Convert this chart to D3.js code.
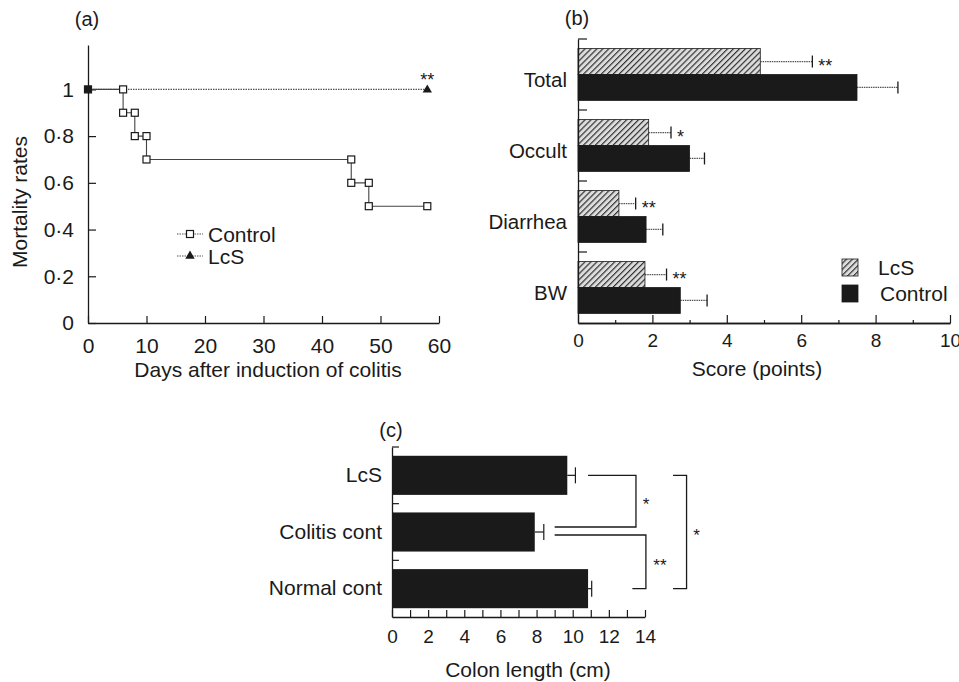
<!DOCTYPE html>
<html>
<head>
<meta charset="utf-8">
<script src="https://cdn.jsdelivr.net/npm/d3@7"></script>
<style>
  body { margin: 0; background: #fff; }
  svg text { font-family: "Liberation Sans", Arial, sans-serif; fill: #1a1a1a; }
</style>
</head>
<body>
<svg width="959" height="682"></svg>
<script>
// (a) survival
const controlDays = [0, 6, 8, 10, 45, 48, 58];
const controlRates = [1, 0.9, 0.8, 0.7, 0.6, 0.5, 0.5];
const lcsDays = [0, 58];
const lcsRates = [1, 1];
const survivalTicksY = [0, 0.2, 0.4, 0.6, 0.8, 1];
const survivalTicksX = [0, 10, 20, 30, 40, 50, 60];

// (b) scores
const scoreCats = ["Total", "Occult", "Diarrhea", "BW"];
const scoreGroups = ["LcS", "Control"];
const lcsScore = [4.9, 1.9, 1.1, 1.8];
const lcsScoreErr = [1.4, 0.6, 0.45, 0.58];
const ctrlScore = [7.5, 3.0, 1.83, 2.75];
const ctrlScoreErr = [1.1, 0.4, 0.45, 0.72];
const scoreStars = ["**", "*", "**", "**"];

// (c) colon length
const colonCats = ["LcS", "Colitis cont", "Normal cont"];
const colonLen = [9.7, 7.9, 10.85];
const colonErr = [0.45, 0.5, 0.2];
// significance brackets: [top row, bottom row, top start, vertical x, bottom end, label]
const colonBrackets = [
  [0, 1, 10.85, 13.5, 9.0, "*"],
  [1, 2, 9.0, 14.05, 13.3, "**"],
  [0, 2, 15.55, 16.3, 15.55, "*"]
];

const svg = d3.select("svg");
const ink = "#1a1a1a";
const fmtDot = d => d === 0 ? "0" : d === 1 ? "1" : d3.format(".1f")(d).replace(".", "\u00b7");

function styleAxis(g, size) {
  g.select(".domain").attr("stroke", ink).attr("stroke-width", 1.3);
  g.selectAll(".tick line").attr("stroke", ink).attr("stroke-width", 1.2);
  g.selectAll(".tick text").attr("font-size", size).attr("fill", ink)
    .style("font-family", '"Liberation Sans", Arial, sans-serif');
}

// ---------- panel (a)
const xA = d3.scaleLinear().domain([0, 60]).range([88, 439]);
const yA = d3.scaleLinear().domain([0, 1.19]).range([323, 45]);

const gA = svg.append("g");
gA.append("g").attr("transform", "translate(0,323)")
  .call(d3.axisBottom(xA).tickValues(survivalTicksX).tickSize(-7).tickSizeOuter(0).tickPadding(15))
  .call(g => styleAxis(g, 21));
gA.append("g").attr("transform", "translate(88,0)")
  .call(d3.axisLeft(yA).tickValues(survivalTicksY).tickFormat(fmtDot).tickSize(-8).tickSizeOuter(0).tickPadding(14))
  .call(g => styleAxis(g, 21));

const stepLine = d3.line().curve(d3.curveStepAfter).x(d => xA(d[0])).y(d => yA(d[1]));
const ctrlPts = controlDays.map((d, i) => [d, controlRates[i]]);
const lcsPts = lcsDays.map((d, i) => [d, lcsRates[i]]);

gA.append("path").datum(lcsPts).attr("d", stepLine)
  .attr("fill", "none").attr("stroke", "#555").attr("stroke-width", 1.1).attr("stroke-dasharray", "1.5,1");
gA.append("path").datum(ctrlPts).attr("d", stepLine)
  .attr("fill", "none").attr("stroke", "#444").attr("stroke-width", 1.1);

// corner markers for the control curve
const corners = [];
controlDays.forEach((d, i) => {
  if (i > 0 && controlRates[i - 1] !== controlRates[i]) corners.push([d, controlRates[i - 1]]);
  corners.push([d, controlRates[i]]);
});
gA.selectAll(".cm").data(corners).enter().append("rect")
  .attr("x", d => xA(d[0]) - 3.5).attr("y", d => yA(d[1]) - 3.5)
  .attr("width", 7).attr("height", 7)
  .attr("fill", d => d[0] === 0 ? ink : "#fff").attr("stroke", ink).attr("stroke-width", 1.2);

const tri = d3.symbol().type(d3.symbolTriangle).size(38);
gA.append("path").attr("d", tri())
  .attr("transform", `translate(${xA(lcsDays[1])},${yA(lcsRates[1]) + 0.5})`).attr("fill", ink);
gA.append("text").attr("x", xA(lcsDays[1])).attr("y", 86).attr("text-anchor", "middle")
  .attr("font-size", 18).text("**");

// legend (a)
[["Control", 234], ["LcS", 256]].forEach(([name, ly]) => {
  gA.append("line").attr("x1", 177).attr("x2", 203).attr("y1", ly).attr("y2", ly)
    .attr("stroke", "#555").attr("stroke-width", 1.1).attr("stroke-dasharray", "1.5,1");
  if (name === "Control") {
    gA.append("rect").attr("x", 186.5).attr("y", ly - 3.5).attr("width", 7).attr("height", 7)
      .attr("fill", "#fff").attr("stroke", ink).attr("stroke-width", 1.2);
  } else {
    gA.append("path").attr("d", tri()).attr("transform", `translate(190,${ly})`).attr("fill", ink);
  }
  gA.append("text").attr("x", 208).attr("y", ly).attr("dy", "0.36em").attr("font-size", 21).text(name);
});

gA.append("text").attr("transform", "translate(27,202) rotate(-90)").attr("text-anchor", "middle")
  .attr("font-size", 21).text("Mortality rates");
gA.append("text").attr("x", 268).attr("y", 377).attr("text-anchor", "middle")
  .attr("font-size", 21).text("Days after induction of colitis");
gA.append("text").attr("x", 87).attr("y", 26).attr("text-anchor", "middle")
  .attr("font-size", 20).text("(a)");

// ---------- panel (b)
const defs = svg.append("defs");
const pat = defs.append("pattern").attr("id", "hatch").attr("patternUnits", "userSpaceOnUse")
  .attr("width", 4.2).attr("height", 4.2).attr("patternTransform", "rotate(45)");
pat.append("rect").attr("width", 4.2).attr("height", 4.2).attr("fill", "#dcdcdc");
pat.append("line").attr("x1", 0).attr("y1", 0).attr("x2", 0).attr("y2", 4.2)
  .attr("stroke", "#333").attr("stroke-width", 2.4);

const xB = d3.scaleLinear().domain([0, 10]).range([578, 950]);
const yB = d3.scaleBand().domain(scoreCats).range([39, 323]).padding(0);
const yBin = d3.scaleBand().domain(scoreGroups).range([0, yB.bandwidth()]).paddingInner(0).paddingOuter(0.37);

const gB = svg.append("g");
const scoreRows = scoreCats.map((c, i) => ({
  cat: c, star: scoreStars[i],
  bars: [
    { grp: "LcS", v: lcsScore[i], e: lcsScoreErr[i] },
    { grp: "Control", v: ctrlScore[i], e: ctrlScoreErr[i] }
  ]
}));

const rowB = gB.selectAll(".row").data(scoreRows).enter().append("g")
  .attr("transform", d => `translate(0,${yB(d.cat)})`);
rowB.selectAll(".eb").data(d => d.bars).enter().append("g").each(function (d) {
  const g = d3.select(this);
  const cy = yBin(d.grp) + yBin.bandwidth() / 2;
  g.append("line").attr("x1", xB(d.v)).attr("x2", xB(d.v + d.e)).attr("y1", cy).attr("y2", cy)
    .attr("stroke", "#555").attr("stroke-width", 1.3).attr("stroke-dasharray", "1.5,0.8");
  g.append("line").attr("x1", xB(d.v + d.e)).attr("x2", xB(d.v + d.e)).attr("y1", cy - 6).attr("y2", cy + 6)
    .attr("stroke", ink).attr("stroke-width", 1.3);
});
rowB.selectAll(".bar").data(d => d.bars).enter().append("rect")
  .attr("x", xB(0)).attr("y", d => yBin(d.grp))
  .attr("width", d => xB(d.v) - xB(0)).attr("height", yBin.bandwidth())
  .attr("fill", d => d.grp === "LcS" ? "url(#hatch)" : ink)
  .attr("stroke", ink).attr("stroke-width", 0.8);
rowB.append("text")
  .attr("x", d => xB(d.bars[0].v + d.bars[0].e) + 6)
  .attr("y", yBin("LcS") + yBin.bandwidth() / 2 + 10)
  .attr("font-size", 18).text(d => d.star);

gB.append("g").attr("transform", "translate(0,323)")
  .call(d3.axisBottom(xB).tickValues([1, 3, 5, 7, 9]).tickFormat("").tickSize(-3).tickSizeOuter(0))
  .call(g => styleAxis(g, 19));
gB.append("g").attr("transform", "translate(0,323)")
  .call(d3.axisBottom(xB).tickValues([0, 2, 4, 6, 8, 10]).tickSize(-8).tickSizeOuter(0).tickPadding(11))
  .call(g => styleAxis(g, 19));
const yAxB = gB.append("g").attr("transform", `translate(${xB(0)},0)`)
  .call(d3.axisLeft(yB).tickSize(0).tickSizeOuter(0).tickPadding(11))
  .call(g => styleAxis(g, 20.5));
yAxB.selectAll(".tick text").attr("dy", "0.62em");
gB.selectAll(".sep").data(scoreCats).enter().append("line")
  .attr("x1", xB(0)).attr("x2", xB(0) + 9).attr("y1", d => yB(d)).attr("y2", d => yB(d))
  .attr("stroke", ink).attr("stroke-width", 1.2);

// legend (b)
[["LcS", 259, "url(#hatch)"], ["Control", 285, ink]].forEach(([name, ly, fill]) => {
  gB.append("rect").attr("x", 842).attr("y", ly).attr("width", 16).attr("height", 17)
    .attr("fill", fill).attr("stroke", ink).attr("stroke-width", 0.8);
  gB.append("text").attr("x", name === "LcS" ? 878 : 880).attr("y", ly + 8.5).attr("dy", "0.36em")
    .attr("font-size", 21).text(name);
});

gB.append("text").attr("x", 757).attr("y", 376).attr("text-anchor", "middle")
  .attr("font-size", 21).text("Score (points)");
gB.append("text").attr("x", 577).attr("y", 25).attr("text-anchor", "middle")
  .attr("font-size", 20).text("(b)");

// ---------- panel (c)
const xC = d3.scaleLinear().domain([0, 14]).range([392, 645]);
const yC = d3.scaleBand().domain(colonCats).range([447, 617]).padding(0);
const barPad = 0.155;
const gC = svg.append("g");

colonCats.forEach((c, i) => {
  const top = yC(c) + yC.bandwidth() * barPad;
  const h = yC.bandwidth() * (1 - 2 * barPad);
  const cy = top + h / 2;
  gC.append("line").attr("x1", xC(colonLen[i])).attr("x2", xC(colonLen[i] + colonErr[i]))
    .attr("y1", cy).attr("y2", cy).attr("stroke", ink).attr("stroke-width", 1.2);
  gC.append("line").attr("x1", xC(colonLen[i] + colonErr[i])).attr("x2", xC(colonLen[i] + colonErr[i]))
    .attr("y1", cy - 8).attr("y2", cy + 8).attr("stroke", ink).attr("stroke-width", 1.2);
  gC.append("rect").attr("x", xC(0)).attr("y", top)
    .attr("width", xC(colonLen[i]) - xC(0)).attr("height", h).attr("fill", ink);
});

const rowMid = i => yC(colonCats[i]) + yC.bandwidth() / 2;
colonBrackets.forEach(([a, b, x0, xv, x1, lab]) => {
  const yTop = a === 1 ? rowMid(1) + 3 : rowMid(a);
  const yBot = b === 1 ? rowMid(1) - 5 : rowMid(b);
  const path = d3.path();
  path.moveTo(xC(x0), yTop);
  path.lineTo(xC(xv), yTop);
  path.lineTo(xC(xv), yBot);
  path.lineTo(xC(x1), yBot);
  gC.append("path").attr("d", path.toString()).attr("fill", "none")
    .attr("stroke", ink).attr("stroke-width", 1.3);
  gC.append("text").attr("x", xC(xv) + (lab === "**" ? 14 : 10)).attr("y", (yTop + yBot) / 2 + 9)
    .attr("text-anchor", "middle").attr("font-size", 17).text(lab);
});

gC.append("g").attr("transform", "translate(0,617)")
  .call(d3.axisBottom(xC).tickValues(d3.range(0, 15)).tickFormat(d => d % 2 === 0 ? d : "")
    .tickSize(-7).tickSizeOuter(0).tickPadding(13))
  .call(g => styleAxis(g, 19));
gC.append("g").attr("transform", `translate(${xC(0)},0)`)
  .call(d3.axisLeft(yC).tickSize(0).tickSizeOuter(0).tickPadding(10))
  .call(g => styleAxis(g, 21));
gC.selectAll(".sep").data(colonCats).enter().append("line")
  .attr("x1", xC(0)).attr("x2", xC(0) + 7).attr("y1", d => yC(d)).attr("y2", d => yC(d))
  .attr("stroke", ink).attr("stroke-width", 1.2);

gC.append("text").attr("x", 528).attr("y", 677).attr("text-anchor", "middle")
  .attr("font-size", 21).text("Colon length (cm)");
gC.append("text").attr("x", 391).attr("y", 437).attr("text-anchor", "middle")
  .attr("font-size", 20).text("(c)");
</script>
</body>
</html>
